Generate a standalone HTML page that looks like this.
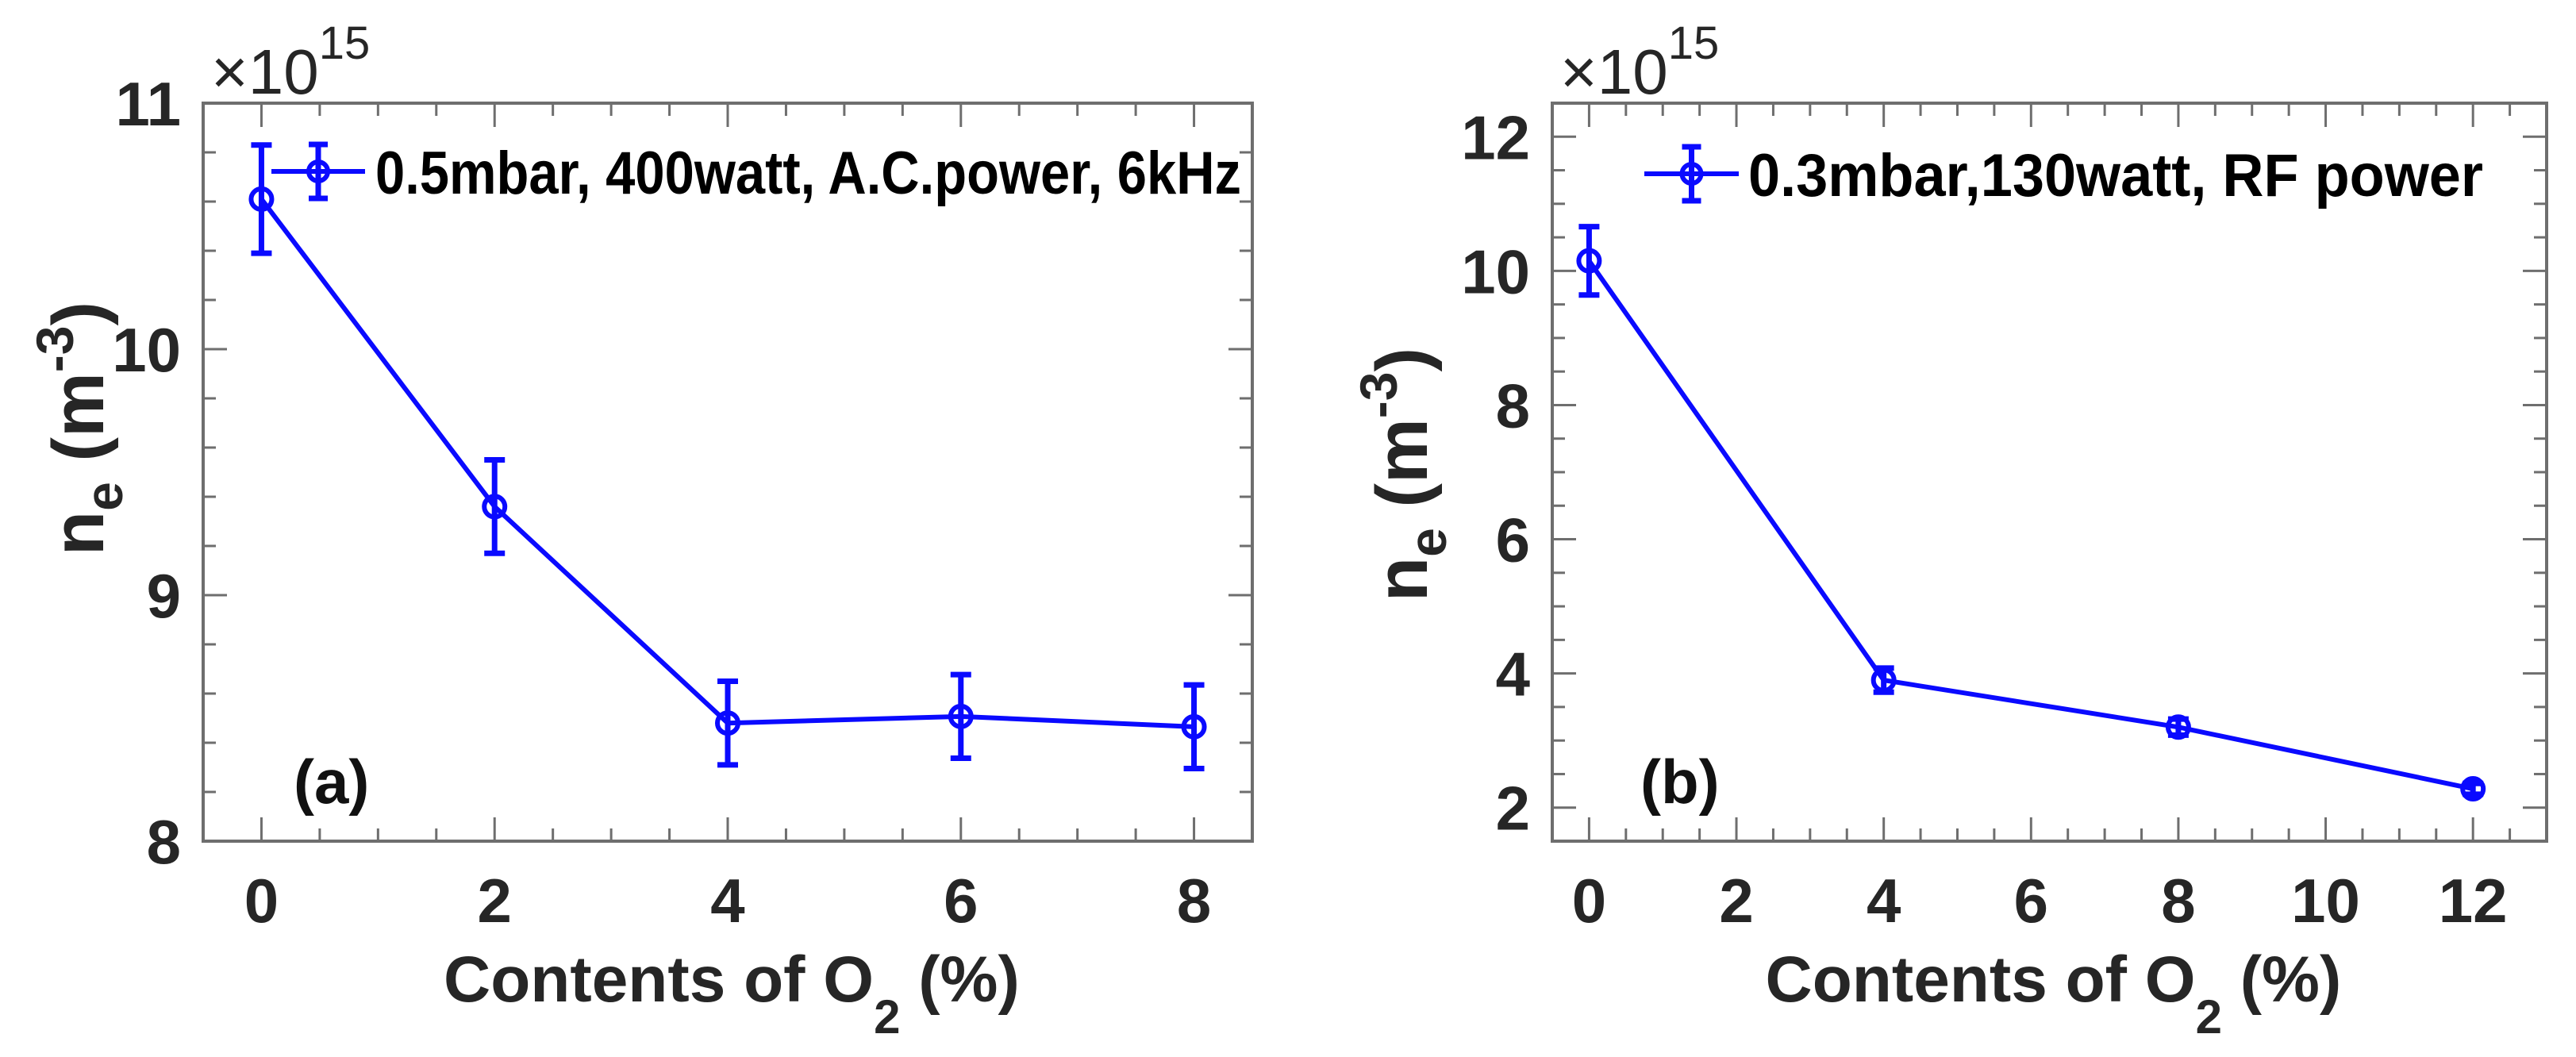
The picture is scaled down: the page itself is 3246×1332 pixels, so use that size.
<!DOCTYPE html>
<html><head><meta charset="utf-8"><style>
html,body{margin:0;padding:0;background:#fff;}
svg{display:block;}
text{font-family:"Liberation Sans",Arial,sans-serif;}
</style></head><body>
<svg id="fig" width="3246" height="1332" viewBox="0 0 3246 1332" xmlns="http://www.w3.org/2000/svg"></svg>
<script>
// Panel (a) data
const aX = [0, 2, 4, 6, 8];
const aY = [10.61, 9.36, 8.48, 8.507, 8.465];
const aErr = [0.22, 0.19, 0.17, 0.17, 0.17];
const aXTicks = [0, 2, 4, 6, 8];
const aYTicks = [8, 9, 10, 11];
const aLegend = "0.5mbar, 400watt, A.C.power, 6kHz";
// Panel (b) data
const bX = [0, 4, 8, 12];
const bY = [10.15, 3.9, 3.2, 2.28];
const bErr = [0.51, 0.18, 0.12, 0.08];
const bXTicks = [0, 2, 4, 6, 8, 10, 12];
const bYTicks = [2, 4, 6, 8, 10, 12];
const bLegend = "0.3mbar,130watt, RF power";

const NS = "http://www.w3.org/2000/svg";
const svg = document.getElementById('fig');
function mk(tag, attrs, parent, txt){
  const e = document.createElementNS(NS, tag);
  for (const k in attrs) e.setAttribute(k, attrs[k]);
  if (txt !== undefined) e.textContent = txt;
  (parent || svg).appendChild(e);
  return e;
}
const BLUE = "#0a0aff";

function panel(cfg){
  const g = mk('g', {});
  
  
  const L = cfg.box[0], R = cfg.box[1], T = 130, B = 1060;
  const sx = v => L + (v - cfg.xlim[0]) / (cfg.xlim[1] - cfg.xlim[0]) * (R - L);
  const sy = v => B - (v - cfg.ylim[0]) / (cfg.ylim[1] - cfg.ylim[0]) * (B - T);
  const tk = mk('g', {stroke: '#6e6e6e', 'stroke-width': 3}, g);
  
  
  for (let v = cfg.xlim[0]; v <= cfg.xlim[1] + 1e-9; v += cfg.xminor) {
    const major = Math.abs(v / cfg.xmajor - Math.round(v / cfg.xmajor)) < 1e-6;
    if (v <= cfg.xlim[0] + 1e-9 || v >= cfg.xlim[1] - 1e-9) continue;
    const len = major ? 30 : 16, x = sx(v);
    mk('line', {x1: x, x2: x, y1: B, y2: B - len}, tk);
    mk('line', {x1: x, x2: x, y1: T, y2: T + len}, tk);
  }
  for (let v = cfg.ylim[0]; v <= cfg.ylim[1] + 1e-9; v += cfg.yminor) {
    const major = Math.abs(v / cfg.ymajor - Math.round(v / cfg.ymajor)) < 1e-6;
    const len = major ? 30 : 16, y = sy(v);
    mk('line', {x1: L, x2: L + len, y1: y, y2: y}, tk);
    mk('line', {x1: R, x2: R - len, y1: y, y2: y}, tk);
  }
  const box = mk('rect', {x: L, y: T, width: R - L, height: B - T, fill: 'none', stroke: '#6e6e6e', 'stroke-width': 4}, g);
  
  
  cfg.xticks.forEach(v => {
    const t = mk('text', {x: sx(v), y: 1162, 'text-anchor': 'middle', 'font-size': 78, 'font-weight': 'bold', fill: '#262626'}, g, String(v));
    
    
  });
  cfg.yticks.forEach(v => {
    const t = mk('text', {x: L - 28, y: sy(v) + 28, 'text-anchor': 'end', 'font-size': 78, 'font-weight': 'bold', fill: '#262626'}, g, String(v));
    
    
  });
  const ex = mk('text', {x: L + 10, y: 118, 'font-size': 80, fill: '#262626'}, g);
  
  
  mk('tspan', {}, ex, '×10');
  mk('tspan', {'font-size': 58, dy: -44}, ex, '15');
  const xl = mk('text', {x: (L + R) / 2 - 358, y: 1262, 'font-size': 82, 'font-weight': 'bold', fill: '#262626'}, g);
  
  
  mk('tspan', {}, xl, 'Contents of O');
  mk('tspan', {'font-size': 60, dy: 40}, xl, '2');
  mk('tspan', {dy: -40}, xl, ' (%)');
  const yl = mk('text', {transform: `translate(${cfg.ylx},${cfg.lyc}) rotate(-90)`, 'text-anchor': 'middle', 'font-size': 92, 'font-weight': 'bold', fill: '#262626'}, g);
  
  
  mk('tspan', {}, yl, 'n');
  mk('tspan', {'font-size': 66, dy: 24}, yl, 'e');
  mk('tspan', {dy: -24}, yl, ' (m');
  mk('tspan', {'font-size': 66, dy: -38}, yl, '-3');
  mk('tspan', {dy: 38}, yl, ')');
  const pl = mk('text', {x: cfg.letterX, y: 1012, 'font-size': 78, 'font-weight': 'bold', fill: '#111'}, g, cfg.letter);
  
  
  const pts = cfg.xs.map((x, i) => sx(x) + ',' + sy(cfg.ys[i])).join(' ');
  const line = mk('polyline', {points: pts, fill: 'none', stroke: BLUE, 'stroke-width': 6}, g);
  
  
  cfg.xs.forEach((x, i) => {
    const px = sx(x), y0 = sy(cfg.ys[i] - cfg.err[i]), y1 = sy(cfg.ys[i] + cfg.err[i]);
    const eb = mk('path', {d: `M${px},${y0}V${y1}M${px-13},${y0}H${px+13}M${px-13},${y1}H${px+13}`, stroke: BLUE, 'stroke-width': 7, fill: 'none'}, g);
    
    
    const c = mk('circle', {cx: px, cy: sy(cfg.ys[i]), r: 13, fill: 'none', stroke: BLUE, 'stroke-width': 6}, g);
    
    
  });
  const lg = mk('g', {}, g);
  
  
  const [l0, l1] = cfg.leg, lm = (l0 + l1) / 2, ly = cfg.legY;
  mk('line', {x1: l0, x2: l1, y1: ly, y2: ly, stroke: BLUE, 'stroke-width': 6}, lg);
  mk('path', {d: `M${lm},${ly-34}V${ly+34}M${lm-12},${ly-34}H${lm+12}M${lm-12},${ly+34}H${lm+12}`, stroke: BLUE, 'stroke-width': 7, fill: 'none'}, lg);
  mk('circle', {cx: lm, cy: ly, r: 12, fill: 'none', stroke: BLUE, 'stroke-width': 6}, lg);
  mk('text', {x: cfg.legText[0], y: ly + 28, 'font-size': 76, 'font-weight': 'bold', fill: '#000', textLength: cfg.legText[1] - cfg.legText[0], lengthAdjust: 'spacingAndGlyphs'}, lg, cfg.legendText);
}

panel({name: 'panel-a', box: [256, 1578], xlim: [-0.5, 8.5], ylim: [8, 11], xmajor: 2, xminor: 0.5, ymajor: 1, yminor: 0.2,
  xs: aX, ys: aY, err: aErr, xticks: aXTicks, yticks: aYTicks, legendText: aLegend,
  leg: [342, 460], legY: 216, legText: [473, 1564], letter: '(a)', letterX: 370, ylx: 130, lyc: 540});
panel({name: 'panel-b', box: [1956, 3209], xlim: [-0.5, 13], ylim: [1.5, 12.5], xmajor: 2, xminor: 0.5, ymajor: 2, yminor: 0.5,
  xs: bX, ys: bY, err: bErr, xticks: bXTicks, yticks: bYTicks, legendText: bLegend,
  leg: [2072, 2191], legY: 219, legText: [2203, 3129], letter: '(b)', letterX: 2067, ylx: 1798, lyc: 598});
</script>
</body></html>
